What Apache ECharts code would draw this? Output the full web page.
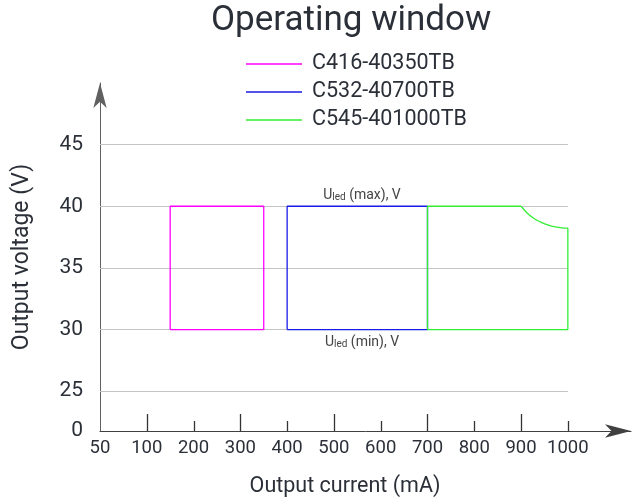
<!DOCTYPE html>
<html>
<head>
<meta charset="utf-8">
<script src="https://cdn.jsdelivr.net/npm/echarts@6/dist/echarts.min.js"></script>
<style>
html, body { margin: 0; padding: 0; background: #fff; }
#main { width: 632px; height: 503px; }
</style>
</head>
<body>
<div id="main"></div>
<script>
// axis ticks and labels
var currentTicks = [0, 100, 200, 300, 400, 500, 600, 700, 800, 900, 1000];
var currentTickLabels = ['50', '100', '200', '300', '400', '500', '600', '700', '800', '900', '1000'];
var longCurrentTicks = [100, 300, 500, 700, 900];
var shortCurrentTicks = [200, 400, 600, 800, 1000];
var voltageTicks = [25, 30, 35, 40, 45];
var markedVoltageTicks = [30, 35, 40];
var voltageMin = 21.77, voltageMax = 50.0, currentMax = 1135;
var gridCurrentEnd = 1000;

// operating windows
var c416Current = [150, 150, 350, 350, 150];
var c416Voltage = [30, 40, 40, 30, 30];
var c532Current = [400, 400, 700, 700, 400];
var c532Voltage = [30, 40, 40, 30, 30];
var c545Current = [900, 700, 700, 1000, 1000];
var c545Voltage = [40, 40, 30, 30, 38.23];
var c545CurveCurrent = [900, 915.8, 930.1, 944.4, 958.5, 972.9, 987.2, 1000];
var c545CurveVoltage = [40, 39.35, 38.95, 38.68, 38.47, 38.33, 38.25, 38.23];

var names = ['C416-40350TB', 'C532-40700TB', 'C545-401000TB'];
var annotationCurrent = 560;

function pairs(xs, ys) {
    return xs.map(function (x, i) { return [x, ys[i]]; });
}

var textColor = '#2b3038';
var myChart = echarts.init(document.getElementById('main'));
var option = {
    animation: false,
    textStyle: { fontFamily: 'Roboto' },
    title: {
        text: 'Operating window',
        left: 206,
        top: -1,
        textStyle: { fontSize: 35, fontWeight: 'normal', color: textColor, fontFamily: 'Roboto' }
    },
    legend: {
        orient: 'vertical',
        left: 241,
        top: 48,
        icon: 'rect',
        itemWidth: 56,
        itemHeight: 1.5,
        itemGap: 6,
        data: names,
        textStyle: { fontSize: 21.5, color: textColor, lineHeight: 21, padding: [0, 0, 0, 5] }
    },
    grid: { left: 100, right: 1, top: 83, bottom: 70 },
    xAxis: {
        type: 'value',
        min: 0,
        max: currentMax,
        name: 'Output current (mA)',
        nameLocation: 'middle',
        nameGap: 45,
        nameTextStyle: { fontSize: 21.5, color: textColor, padding: [0, 41, 0, 0] },
        axisLine: { lineStyle: { color: '#404040', width: 1 }, symbol: ['none', 'arrow'], symbolSize: [10, 26] },
        axisTick: { show: false },
        axisLabel: {
            customValues: currentTicks,
            margin: 8,
            fontSize: 18.5,
            color: textColor,
            formatter: function (v) { return currentTickLabels[currentTicks.indexOf(v)]; }
        },
        splitLine: { show: false }
    },
    yAxis: {
        type: 'value',
        min: voltageMin,
        max: voltageMax,
        name: 'Output voltage (V)',
        nameLocation: 'middle',
        nameGap: 66,
        nameRotate: 90,
        nameTextStyle: { fontSize: 23, color: textColor },
        axisLine: { show: true, lineStyle: { color: '#606060', width: 1 }, symbol: ['none', 'arrow'], symbolSize: [10, 25] },
        axisTick: { show: true, inside: true, length: 19, customValues: markedVoltageTicks, lineStyle: { color: '#333' } },
        axisLabel: {
            customValues: [voltageMin].concat(voltageTicks),
            margin: 17,
            fontSize: 21,
            color: textColor,
            formatter: function (v) { return v < voltageTicks[0] ? '0' : String(v); }
        },
        splitLine: { show: false }
    },
    series: [{
        type: 'line',
        name: 'grid',
        silent: true,
        z: 1,
        data: [],
        markLine: {
            silent: true,
            z: 1,
            symbol: 'none',
            label: { show: false },
            lineStyle: { color: '#c4c4c4', type: 'solid', width: 1 },
            data: voltageTicks.map(function (v) { return [{ coord: [0, v] }, { coord: [gridCurrentEnd, v] }]; })
        }
    }, {
        // current axis ticks: long at odd hundreds, short at even hundreds
        type: 'custom',
        name: 'current ticks',
        silent: true,
        clip: false,
        z: 5,
        data: currentTicks.slice(1).map(function (v) { return [v, voltageMin]; }),
        renderItem: function (params, api) {
            var v = api.value(0);
            var p = api.coord([v, api.value(1)]);
            var x = Math.round(p[0]) + 0.5;
            var len = shortCurrentTicks.indexOf(v) >= 0 ? 10 : 17;
            return {
                type: 'line',
                shape: { x1: x, y1: p[1], x2: x, y2: p[1] - len },
                style: { stroke: '#333', lineWidth: 1.3 }
            };
        }
    }, {
        type: 'line',
        name: names[0],
        symbol: 'none',
        z: 3,
        color: '#ff00ff',
        lineStyle: { width: 1.3 },
        data: pairs(c416Current, c416Voltage)
    }, {
        type: 'line',
        name: names[1],
        symbol: 'none',
        z: 3,
        color: '#1a1ae6',
        lineStyle: { width: 1.3 },
        data: pairs(c532Current, c532Voltage),
        markPoint: {
            symbol: 'circle',
            symbolSize: 0,
            silent: true,
            label: {
                show: true,
                color: '#444',
                fontSize: 14,
                rich: { s: { fontSize: 10, verticalAlign: 'bottom', color: '#444' } }
            },
            data: [{
                coord: [annotationCurrent, 40],
                label: { position: 'top', distance: 4, formatter: 'U{s|led} (max), V' }
            }, {
                coord: [annotationCurrent, 30],
                label: { position: 'bottom', distance: 6, formatter: 'U{s|led} (min), V' }
            }]
        }
    }, {
        type: 'line',
        name: names[2],
        symbol: 'none',
        z: 4,
        color: '#33ee33',
        lineStyle: { width: 1.3 },
        data: pairs(c545Current, c545Voltage)
    }, {
        type: 'line',
        name: names[2],
        symbol: 'none',
        smooth: 0.3,
        z: 4,
        color: '#33ee33',
        lineStyle: { width: 1.3 },
        data: pairs(c545CurveCurrent, c545CurveVoltage)
    }]
};
myChart.setOption(option);
</script>
</body>
</html>
